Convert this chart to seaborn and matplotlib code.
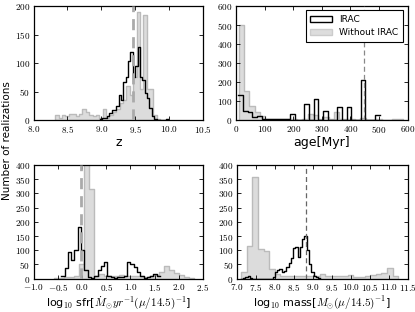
import numpy as np
import pandas as pd
import matplotlib
matplotlib.use("Agg")
import matplotlib.pyplot as plt
from matplotlib.patches import Patch
from matplotlib.ticker import FuncFormatter, MultipleLocator
import seaborn as sns

# ---------------- data ----------------
# redshift z
z_irac_start, z_irac_width = 8.975, 0.035
z_irac = [2, 5, 5, 8, 13, 18, 18, 25, 45, 35, 68, 75, 103, 120, 75, 95, 129, 75,
          70, 48, 40, 22, 8, 3, 0, 0, 0, 0, 3]
z_noirac_start, z_noirac_width = 8.32, 0.05
z_noirac = [10, 5, 10, 8, 12, 12, 8, 12, 20, 15, 10, 8, 10, 5, 20, 5, 10, 15, 20,
            30, 35, 60, 45, 75, 190, 55, 185, 55, 55, 10, 3]

# age [Myr]
age_irac_start, age_irac_width = 7.0, 16.5
age_irac = [135, 52, 42, 20, 22, 5, 8, 8, 8, 8, 10, 35, 0, 0, 85, 0, 110, 0, 50, 0,
            0, 68, 0, 72, 0, 0, 210, 0, 0, 28]
age_noirac_start, age_noirac_width = 9.5, 18.5
age_noirac = [500, 152, 74, 44, 25, 8, 5, 5, 5, 8, 10, 3, 5, 35, 30, 10, 20, 5, 45,
              5, 5, 5, 3, 12, 2, 3, 10, 3, 2, 5, 5]

# log10 sfr
sfr_irac_start, sfr_irac_width = -0.427, 0.068
sfr_irac = [10, 37, 92, 66, 100, 183, 100, 30, 5, 3, 10, 30, 45, 60, 10, 5, 3, 5, 5,
            10, 60, 50, 40, 25, 8, 3, 5, 8, 18, 8]
sfr_noirac_start, sfr_noirac_width = -0.57, 0.103
sfr_noirac = [3, 3, 5, 5, 8, 50, 480, 315, 10, 15, 8, 10, 8, 12, 10, 8, 10, 8, 5, 8,
              12, 25, 45, 30, 20, 12, 5, 3]

# log10 mass
mass_irac_start, mass_irac_width = 7.10, 0.06
mass_irac = [0, 3, 5, 10, 3, 0, 0, 0, 0, 0, 0, 0, 0, 0, 5, 22, 30, 35, 25, 28, 40, 56,
             72, 107, 110, 77, 113, 141, 150, 100, 50, 25, 10, 5, 2]
mass_noirac_start, mass_noirac_width = 7.11, 0.148
mass_noirac = [22, 115, 358, 104, 97, 35, 18, 10, 8, 8, 8, 8, 10, 8, 15, 8, 8, 10, 10,
               12, 5, 5, 8, 12, 15, 20, 37, 10]

# reference (dashed) values
z_ref, age_ref, sfr_ref, mass_ref = 9.47, 448, -0.02, 8.82

labels = ["IRAC", "Without IRAC"]
# ---------------------------------------------------------------

plt.rcParams["mathtext.fontset"] = "cm"
SANS = ["DejaVu Sans"]

fig = plt.figure(figsize=(4.15, 3.12), dpi=100)
positions = [
    [0.081, 0.614, 0.408, 0.367],
    [0.569, 0.614, 0.413, 0.367],
    [0.081, 0.107, 0.408, 0.364],
    [0.571, 0.107, 0.411, 0.364],
]

panels = [
    dict(irac=(z_irac_start, z_irac_width, z_irac),
         noirac=(z_noirac_start, z_noirac_width, z_noirac),
         xlim=(8.0, 10.5), xstep=0.5, ylim=(0, 200), ystep=50, fmt="{:.1f}",
         xlabel="z", lsize=9, lpad=1.0, ref=z_ref, reflw=2.0, refcol="#aaaaaa"),
    dict(irac=(age_irac_start, age_irac_width, age_irac),
         noirac=(age_noirac_start, age_noirac_width, age_noirac),
         xlim=(0, 600), xstep=100, ylim=(0, 600), ystep=100, fmt="{:.0f}",
         xlabel="age[Myr]", lsize=9, lpad=1.0, ref=age_ref, reflw=0.9, refcol="#888888"),
    dict(irac=(sfr_irac_start, sfr_irac_width, sfr_irac),
         noirac=(sfr_noirac_start, sfr_noirac_width, sfr_noirac),
         xlim=(-1.0, 2.5), xstep=0.5, ylim=(0, 400), ystep=50, fmt="{:.1f}",
         xlabel=r"log$_{10}$ sfr[$\dot{M}_{\odot}yr^{-1}(\mu/14.5)^{-1}$]",
         lsize=8, lpad=0.5, ref=sfr_ref, reflw=2.0, refcol="#aaaaaa"),
    dict(irac=(mass_irac_start, mass_irac_width, mass_irac),
         noirac=(mass_noirac_start, mass_noirac_width, mass_noirac),
         xlim=(7.0, 11.5), xstep=0.5, ylim=(0, 400), ystep=50, fmt="{:.1f}",
         xlabel=r"log$_{10}$ mass[$M_{\odot}(\mu/14.5)^{-1}$]",
         lsize=8, lpad=0.5, ref=mass_ref, reflw=0.9, refcol="#666666"),
]

GRAY = "#bbbbbb"

def hist_frame(start, width, counts):
    counts = np.asarray(counts, dtype=float)
    edges = start + width * np.arange(len(counts) + 1)
    centers = 0.5 * (edges[:-1] + edges[1:])
    return pd.DataFrame({"x": centers, "w": counts}), [float(e) for e in edges]

axes = []
for pos, p in zip(positions, panels):
    ax = fig.add_axes(pos)
    axes.append(ax)
    df_i, e_i = hist_frame(*p["irac"])
    df_n, e_n = hist_frame(*p["noirac"])
    sns.histplot(data=df_i, x="x", weights="w", bins=e_i, element="step",
                 fill=False, color="black", linewidth=1.0, ax=ax)
    sns.histplot(data=df_n, x="x", weights="w", bins=e_n, element="step",
                 fill=True, color=GRAY, alpha=0.5, linewidth=1.0, ax=ax)
    ax.axvline(p["ref"], color=p["refcol"], lw=p["reflw"], ls=(0, (4, 2.5)), zorder=3)
    ax.set_xlim(*p["xlim"])
    ax.set_ylim(*p["ylim"])
    ax.xaxis.set_major_locator(MultipleLocator(p["xstep"]))
    ax.yaxis.set_major_locator(MultipleLocator(p["ystep"]))
    fmt = p["fmt"]
    ax.xaxis.set_major_formatter(FuncFormatter(lambda v, _, f=fmt: "$" + f.format(v) + "$"))
    ax.yaxis.set_major_formatter(FuncFormatter(lambda v, _: "$%d$" % round(v)))
    ax.tick_params(direction="in", top=True, right=True, length=3, width=0.6,
                   labelsize=6.6, pad=2.5, colors="black")
    ax.set_ylabel("")
    ax.set_xlabel(p["xlabel"], fontsize=p["lsize"], family=SANS, labelpad=p["lpad"])
    for s in ax.spines.values():
        s.set_linewidth(0.9)
        s.set_color("black")
    ax.set_facecolor("white")

handles = [Patch(facecolor="white", edgecolor="black", linewidth=1.0),
           Patch(facecolor="#dddddd", edgecolor="#cccccc", linewidth=1.0)]
leg = axes[1].legend(handles, labels, loc="upper right",
                     prop={"family": SANS, "size": 6.5}, fancybox=False,
                     framealpha=1.0, edgecolor="black", borderpad=0.5,
                     handlelength=2.4, handletextpad=0.8, labelspacing=0.5,
                     borderaxespad=0.5)
leg.get_frame().set_linewidth(0.8)

fig.text(0.018, 0.548, "Number of realizations", rotation=90, va="center",
         ha="center", fontsize=7.5, family=SANS)

fig.savefig("out.png", dpi=100, facecolor="white")
